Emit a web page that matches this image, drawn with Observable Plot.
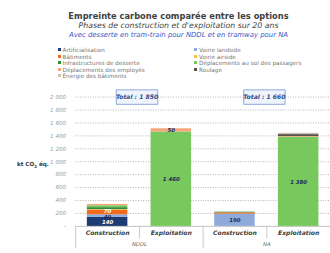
<!DOCTYPE html>
<html><head><meta charset="utf-8">
<script src="https://cdn.jsdelivr.net/npm/d3@7"></script>
<script src="https://cdn.jsdelivr.net/npm/@observablehq/plot@0.6"></script>
<style>
html,body{margin:0;padding:0;background:#fff;overflow:hidden;}
#page{position:relative;width:330px;height:253px;overflow:hidden;font-family:"DejaVu Sans",sans-serif;}
.t{position:absolute;white-space:nowrap;}
#title{left:0;width:357px;text-align:center;top:10.5px;font-size:8.3px;font-weight:bold;color:#404040;}
#sub{left:0;width:357px;text-align:center;top:20.5px;font-size:7.8px;font-style:italic;color:#444;}
#sub2{left:0;width:357px;text-align:center;top:30.5px;font-size:6.9px;font-style:italic;color:#3556c8;}
.leg{position:absolute;font-size:5.7px;color:#777;white-space:nowrap;line-height:7px;}
.leg i{display:inline-block;width:3px;height:3px;margin-right:2px;vertical-align:1px;}
#ylab{position:absolute;left:17px;top:160.5px;font-size:5.6px;font-weight:bold;color:#333;}
#chart{position:absolute;left:0;top:86px;line-height:0;}
#chart svg{display:block;}
</style></head>
<body><div id="page">
<div class="t" id="title">Empreinte carbone comparée entre les options</div>
<div class="t" id="sub">Phases de construction et d'exploitation sur 20 ans</div>
<div class="t" id="sub2">Avec desserte en tram-train pour NDDL et en tramway pour NA</div>
<div id="legend"></div>
<div id="ylab">kt CO<sub style="font-size:4px">2</sub> éq.</div>
<div id="chart"></div>
</div>
<script>
const options = ["NDDL", "NA"];
const phases = ["Construction", "Exploitation"];
const sources = ["Artificialisation", "Voirie landside", "Bâtiments", "Voirie airside", "Infrastructures de desserte", "Déplacements au sol des passagers", "Déplacements des employés", "Roulage", "Énergie des bâtiments"];
const colors = ["#1f3b73", "#8eaadb", "#f26b1d", "#f9c23c", "#2e8b3e", "#77c95e", "#f4a57a", "#5a5048", "#c9bfb2"];
// values in source order
const nddlConstruction = [140, 40, 70, 10, 30, 30, 20, 0, 0];
const nddlExploitation = [0, 0, 0, 0, 0, 1460, 50, 0, 0];
const naConstruction = [0, 190, 20, 0, 10, 0, 0, 0, 0];
const naExploitation = [0, 0, 0, 0, 0, 1380, 10, 30, 20];
const yTicks = [0, 200, 400, 600, 800, 1000, 1200, 1400, 1600, 1800, 2000];
const legendLeft = ["Artificialisation", "Bâtiments", "Infrastructures de desserte", "Déplacements des employés", "Énergie des bâtiments"];
const legendRight = ["Voirie landside", "Voirie airside", "Déplacements au sol des passagers", "Roulage"];

const bars = [["NDDL","Construction",nddlConstruction],["NDDL","Exploitation",nddlExploitation],["NA","Construction",naConstruction],["NA","Exploitation",naExploitation]];
const rows = [];
for (const [option, phase, vals] of bars) vals.forEach((v, i) => rows.push({option, phase, source: sources[i], value: v}));
const totals = options.map(o => ({option: o, total: d3.sum(rows.filter(r => r.option === o), r => r.value)}));

const fmt = v => d3.format(",")(v).replace(/,/g, " ");
const colorOf = s => colors[sources.indexOf(s)];

// legend
const leg = document.getElementById("legend");
const addCol = (items, x) => items.forEach((s, k) => {
  const d = document.createElement("div");
  d.className = "leg";
  d.style.left = x + "px";
  d.style.top = (47 + k * 6.5) + "px";
  d.innerHTML = `<i style="background:${colorOf(s)}"></i>${s}`;
  leg.appendChild(d);
});
addCol(legendLeft, 57.5);
addCol(legendRight, 194);

const boxSymbol = {draw(ctx) { ctx.moveTo(-21.5, -7.5); ctx.lineTo(21.5, -7.5); ctx.lineTo(21.5, 7.5); ctx.lineTo(-21.5, 7.5); ctx.closePath(); }};
const whiteText = new Set(["Artificialisation", "Bâtiments"]);
const labelShift = {"Bâtiments": -1.3, "Voirie landside": 0.8};

const plot = Plot.plot({
  width: 342, height: 167,
  marginLeft: 78, marginRight: 0, marginTop: 11, marginBottom: 22,
  style: {fontFamily: "DejaVu Sans, sans-serif", overflow: "visible", background: "transparent"},
  fx: {domain: options, padding: 0, label: null, axis: null},
  x: {domain: phases, paddingInner: 0.36, paddingOuter: 0.18, axis: null, label: null},
  y: {domain: [0, 2000], range: [145, 11], axis: null},
  color: {domain: sources, range: colors},
  marks: [
    Plot.gridY(yTicks.filter(t => t > 0), {stroke: "#9a9a9a", strokeOpacity: 1, strokeDasharray: "1,1.6", strokeWidth: 0.8}),
    Plot.axisY(yTicks, {tickSize: 0, tickPadding: 10, tickFormat: d => d === 0 ? "-" : fmt(d), fontSize: 5.8, fontStyle: "italic", fill: "#9a9a9a", label: null}),
    Plot.ruleY([0], {stroke: "#bfbfbf"}),
    Plot.ruleX(["Exploitation"], {x: d => d, dx: -33, y1: 0, y2: -195, stroke: "#c8c8c8"}),
    Plot.ruleX(["Construction"], {x: d => d, dx: -33, y1: 0, y2: -340, stroke: "#c8c8c8"}),
    Plot.barY(rows, {fx: "option", x: "phase", y: "value", fill: "source"}),
    Plot.text(rows, Plot.stackY({fx: "option", x: "phase", y: "value", z: "source",
      text: d => d.value >= 40 ? fmt(d.value) : "",
      fill: d => whiteText.has(d.source) ? "#ffffff" : "#1f2d55",
      fontSize: 5.6, fontWeight: "bold", fontStyle: "italic"})),
    Plot.dot(totals, {fx: "option", y: d => 2000, symbol: boxSymbol, r: 5, dx: -2.5, fill: "#eef3fc", stroke: "#8da6d8", strokeWidth: 1}),
    Plot.text(totals, {fx: "option", y: d => 2000, dx: -2.5, text: d => `Total : ${fmt(d.total)}`, fontSize: 6.3, fontWeight: "bold", fontStyle: "italic", fill: "#2c4a8c"}),
    // category labels (x axis) and group labels (fx axis), placed below the baseline
    Plot.text(phases, {x: d => d, y: d => -109, text: d => d, fontSize: 6.3, fontWeight: "bold", fontStyle: "italic", fill: "#404040"}),
    Plot.text(options, {fx: d => d, y: d => -278, text: d => d, fontSize: 5.5, fontStyle: "italic", fill: "#666"})
  ]
});
// nudge crowded segment labels apart
d3.select(plot).selectAll('g[aria-label="text"]').filter((d, i) => i === 0).selectAll("text").each(function () {
  const t = d3.select(this).text();
  if (t === "70") d3.select(this).attr("dy", (+d3.select(this).attr("dy") || 0) + labelShift["Bâtiments"]);
  if (t === "40") d3.select(this).attr("dy", (+d3.select(this).attr("dy") || 0) + labelShift["Voirie landside"]);
});
document.getElementById("chart").appendChild(plot);
</script>
</body></html>
